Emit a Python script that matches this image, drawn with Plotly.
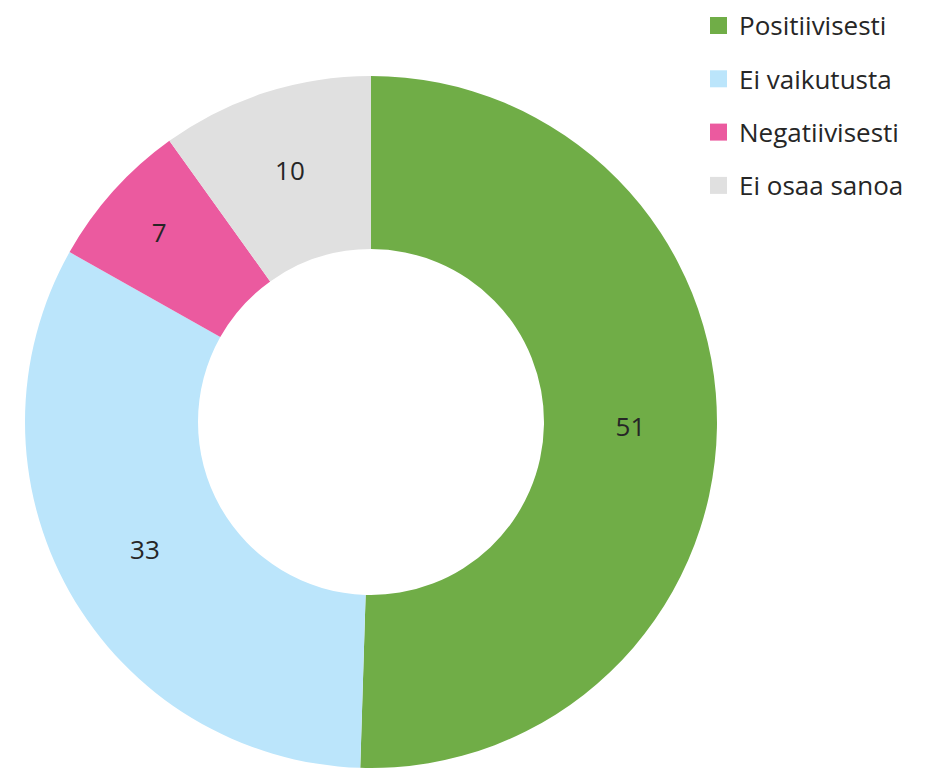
import plotly.graph_objects as go

labels = ["Positiivisesti", "Ei vaikutusta", "Negatiivisesti", "Ei osaa sanoa"]
values = [51, 33, 7, 10]
colors = ["#70AD47", "#BBE5FB", "#EB5A9F", "#E0E0E0"]

W, H = 945, 770
FONT = "Open Sans"

fig = go.Figure(
    go.Pie(
        labels=labels,
        values=values,
        hole=0.5,
        sort=False,
        direction="clockwise",
        rotation=0,
        marker=dict(colors=colors, line=dict(width=0)),
        textinfo="value",
        textposition="inside",
        insidetextorientation="horizontal",
        textfont=dict(size=26, color="#262626", family=FONT),
        domain=dict(x=[16 / W, 710 / W], y=[10 / H, 702 / H]),
        hoverinfo="label+value",
        showlegend=False,
    )
)

# legend drawn by hand so the row spacing matches the original
row_top = 17.5   # px from top, centre of first row
row_gap = 53.3
sw = 17
for i, (lab, col) in enumerate(zip(labels, colors)):
    yc = row_top + i * row_gap
    fig.add_shape(
        type="rect",
        xref="paper", yref="paper",
        x0=702 / W, x1=(702 + sw) / W,
        y0=1 - (yc + sw / 2) / H, y1=1 - (yc - sw / 2) / H,
        fillcolor=col,
        line=dict(width=0),
    )
    fig.add_annotation(
        xref="paper", yref="paper",
        x=730 / W, y=1 - yc / H,
        xanchor="left", yanchor="middle",
        text=lab,
        showarrow=False,
        borderpad=0,
        font=dict(size=26, color="#262626", family=FONT),
    )

fig.update_layout(
    width=W,
    height=H,
    margin=dict(l=0, r=0, t=0, b=0),
    paper_bgcolor="white",
    plot_bgcolor="white",
    font=dict(family=FONT, color="#262626"),
)

fig.write_html("out.html")
